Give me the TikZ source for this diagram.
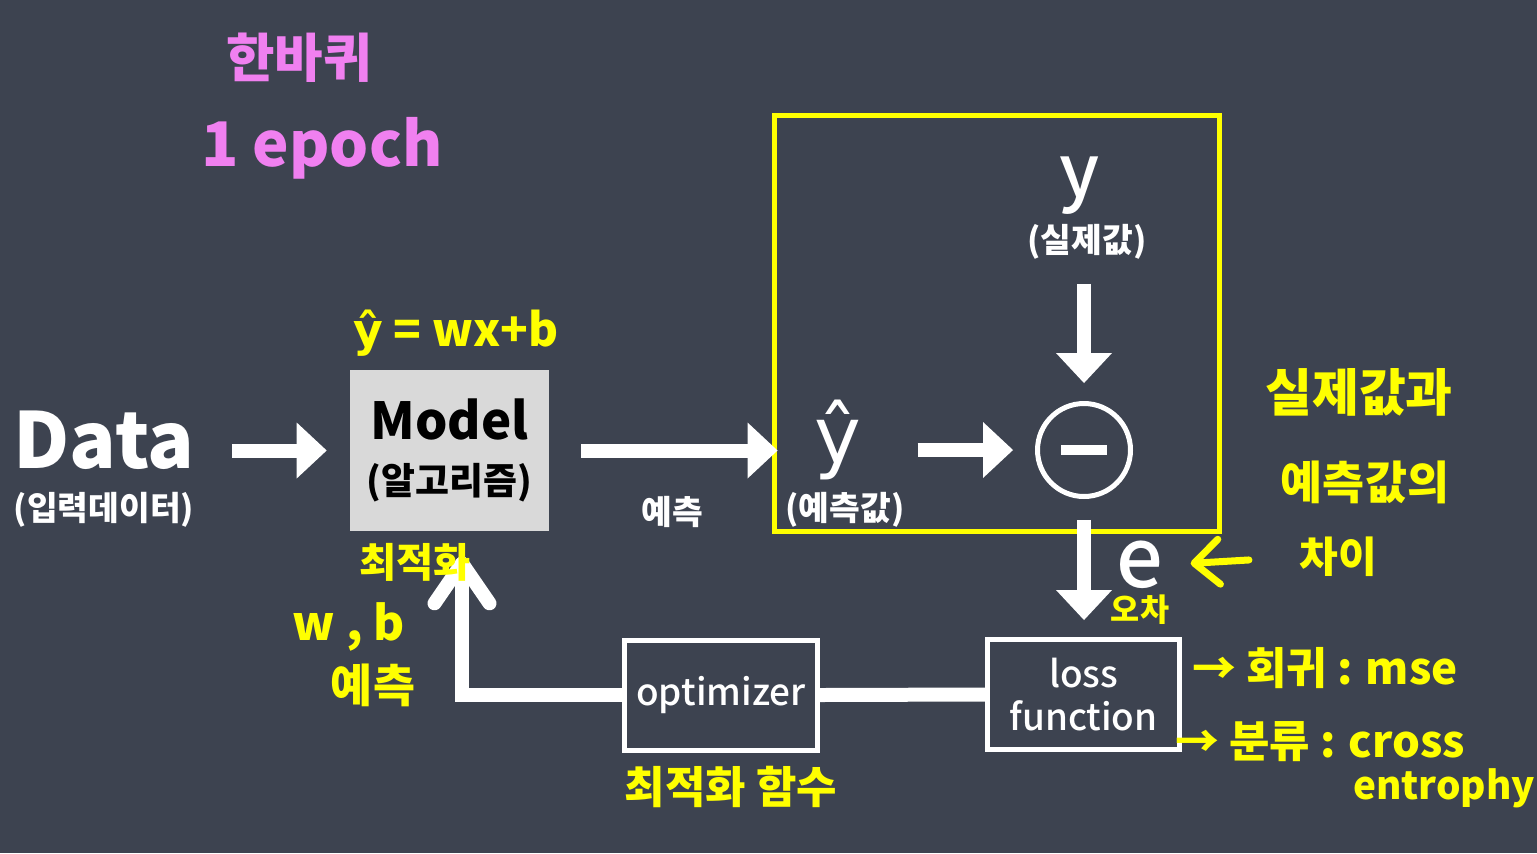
\documentclass[tikz,border=0pt]{standalone}
\usepackage{fontspec}
\setmainfont{Noto Sans CJK KR}
\newfontfamily\medfont{Noto Sans CJK KR Medium}
\newfontfamily\hatfont{DejaVu Sans}
\usetikzlibrary{arrows.meta}

\definecolor{bgcol}{RGB}{61,67,80}
\definecolor{markyel}{RGB}{255,255,0}
\definecolor{markpink}{RGB}{240,128,240}
\definecolor{modelgray}{RGB}{217,217,217}
\newcommand{\textsz}[1]{\fontsize{#1}{#1}\selectfont}

\begin{document}
\begin{tikzpicture}[x=0.02cm, y=-0.02cm,
    lbl/.style={text=white, inner sep=0pt},
    bigarrow/.style={draw=white, line width=0.28cm, -{Triangle[length=0.6cm, width=1.12cm, line width=0pt]}},
    fatline/.style={draw=white, line width=0.28cm},
    whitebox/.style={draw=white, line width=0.1cm, fill=bgcol, minimum height=2.2cm, text=white, align=center, inner sep=0pt},
    note/.style={text=markyel, inner sep=0pt},
    pinknote/.style={text=markpink, inner sep=0pt}]
  \fill[bgcol] (0,0) rectangle (1537,853);
  \useasboundingbox (0,0) rectangle (1537,853);

  % blocks
  \node[lbl, font=\bfseries\textsz{44}] (data) at (104,440) {Data};
  \node[lbl, font=\bfseries\textsz{19}] (datasub) at (104,510) {(입력데이터)};
  \node[fill=modelgray, minimum width=3.98cm, minimum height=3.22cm, align=center, inner sep=0pt] (model) at (449.5,450.5)
    {\bfseries\fontsize{29}{34}\selectfont Model\\[12pt]\bfseries\fontsize{21}{24}\selectfont (알고리즘)};
  \node[lbl, font=\bfseries\textsz{19}] (predlbl) at (672,512) {예측};
  \node[draw=markyel, line width=0.1cm, minimum width=8.9cm, minimum height=8.32cm, inner sep=0pt] (frame) at (997,323.5) {};
  \node[lbl, font=\hatfont\textsz{45}] (yhat) at (838,440) {ŷ};
  \node[lbl, font=\bfseries\textsz{19}] (yhatsub) at (845,510) {(예측값)};
  \node[lbl, font=\medfont\textsz{42}] (ytrue) at (1080,186) {y};
  \node[lbl, font=\bfseries\textsz{19}] (ytruesub) at (1087,242) {(실제값)};
  \node[circle, draw=white, line width=0.1cm, minimum size=1.86cm, inner sep=0pt] (minus) at (1084,450) {};
  \draw[white, line width=0.2cm] ([xshift=-0.46cm]minus.center) -- ([xshift=0.46cm]minus.center);
  \node[lbl, font=\medfont\textsz{47}] (err) at (1140,565) {e};
  \node[whitebox, minimum width=3.84cm, font=\medfont\fontsize{21}{24}\selectfont] (loss) at (1083.5,694.5) {loss\\function};
  \node[whitebox, minimum width=3.86cm, font=\medfont\textsz{21}] (optim) at (721,695) {optimizer};

  % connectors
  \draw[bigarrow, shorten <=0.74cm, shorten >=0.46cm] (data.east |- model.west) -- (model.west);
  \draw[bigarrow, shorten <=0.64cm, shorten >=-0.11cm] (model.east) -- (model.east -| frame.west);
  \draw[bigarrow, shorten <=1.12cm, shorten >=0.44cm] (yhat.east |- minus.west) -- (minus.west);
  \draw[bigarrow, shorten <=0.48cm, shorten >=0.36cm] (ytruesub.south -| minus.north) -- (minus.north);
  \draw[bigarrow, shorten <=0.42cm, shorten >=0.34cm] (minus.south) -- (minus.south |- loss.north);
  \draw[fatline] (optim.east) -- (loss.west);
  \draw[fatline, -{Straight Barb[length=0.8cm, width=1.1cm, round]}, shorten >=0.5cm]
    (optim.west) -| ([xshift=0.25cm]model.south);

  % handwritten notes
  \node[pinknote, font=\bfseries\textsz{30}] (rounds) at (299,58) {한바퀴};
  \node[pinknote, font=\bfseries\textsz{35}] (epoch) at (322,148) {1 epoch};
  \node[note, font=\bfseries\textsz{26}] (hypo) at (456,333) {{\hatfont ŷ} = wx+b};
  \node[note, font=\bfseries\textsz{23}] (optnote) at (415,562) {최적화};
  \node[note, font=\bfseries\textsz{27}] (wbnote) at (349,627) {w , b};
  \node[note, font=\bfseries\textsz{26}] (prednote) at (373,685) {예측};
  \node[note, font=\bfseries\textsz{25}] (optfunc) at (731,787) {최적화 함수};
  \node[note, font=\bfseries\textsz{29}] (diff1) at (1359,392) {실제값과};
  \node[note, font=\bfseries\textsz{26}] (diff2) at (1365,482) {예측값의};
  \node[note, font=\bfseries\textsz{24}] (diff3) at (1338,557) {차이};
  \draw[markyel, line width=0.14cm, line cap=round, -{Straight Barb[length=0.5cm, width=0.9cm, round]},
    shorten <=1cm, shorten >=0.54cm] (diff3.west) -- (err.east);
  \node[note, font=\bfseries\textsz{18}] (errnote) at (1140,610) {오차};
  \node[note, font=\bfseries\textsz{25}] (regnote) at (1325,668) {→ 회귀 : mse};
  \node[note, font=\bfseries\textsz{25}] (clsnote) at (1320,742) {→ 분류 : cross};
  \node[note, font=\bfseries\textsz{22}] (entnote) at (1444,788) {entrophy};
\end{tikzpicture}
\end{document}
